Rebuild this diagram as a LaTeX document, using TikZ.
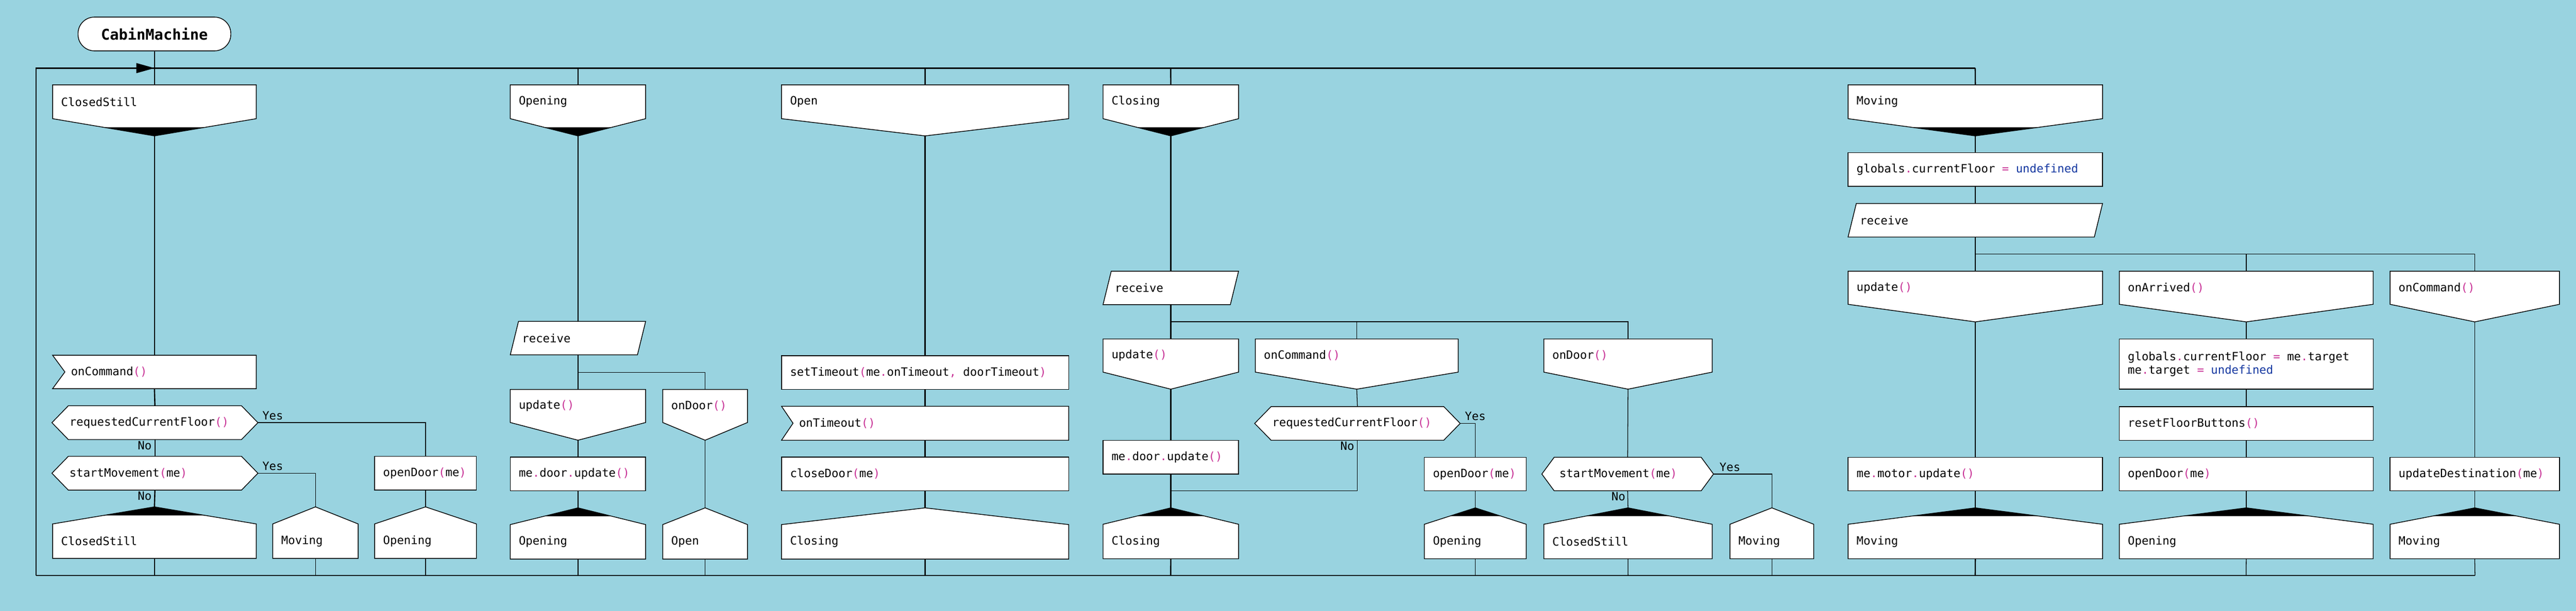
\documentclass[tikz,border=0pt]{standalone}
\usepackage{fontspec}
\setmonofont{DejaVu Sans Mono}
\usetikzlibrary{calc}
\definecolor{bg}{RGB}{153,211,224}
\definecolor{pnk}{RGB}{200,50,150}
\definecolor{ublue}{RGB}{20,55,160}
\newcommand\PK[1]{\textcolor{pnk}{#1}}
\newcommand\UD{\textcolor{ublue}{undefined}}
\tikzset{
  shp/.style={draw=black,fill=white,line width=0.45pt,line join=miter},
  txt/.style={font=\ttfamily\fontsize{7}{8.3}\selectfont,inner sep=0pt,anchor=west,align=left},
  thick line/.style={line width=0.75pt},
  thin line/.style={line width=0.4pt},
  lbl/.style={font=\ttfamily\fontsize{7}{8}\selectfont,inner sep=0.5pt},
}
% header with chevron bottom: name,x1,y1,w,h,d,blk,text
\newcommand\Hdr[8]{%
  \pgfmathsetmacro\Xr{#2+#4}\pgfmathsetmacro\Xm{#2+#4/2}%
  \pgfmathsetmacro\Yb{#3+#5}\pgfmathsetmacro\Ya{#3+#5+#6}\pgfmathsetmacro\Ym{#3+#5/2}%
  \draw[shp] (#2,#3) -- (\Xr,#3) -- (\Xr,\Yb) -- (\Xm,\Ya) -- (#2,\Yb) -- cycle;
  \ifnum#7=1 \fill (\Xm,\Ya) -- ($(\Xm,\Ya)!0.5!(\Xr,\Yb)$) -- ($(\Xm,\Ya)!0.5!(#2,\Yb)$) -- cycle;\fi
  \node[txt] (#1) at (#2+5,\Ym) {#8};
  \coordinate (#1-in) at (\Xm,#3); \coordinate (#1-out) at (\Xm,\Ya);}
% end shape with top apex: name,x1,y0,w,d,h,blk,text
\newcommand\End[8]{%
  \pgfmathsetmacro\Xr{#2+#4}\pgfmathsetmacro\Xm{#2+#4/2}%
  \pgfmathsetmacro\Ys{#3+#5}\pgfmathsetmacro\Yb{#3+#5+#6}\pgfmathsetmacro\Ym{#3+#5+#6/2}%
  \draw[shp] (\Xm,#3) -- (\Xr,\Ys) -- (\Xr,\Yb) -- (#2,\Yb) -- (#2,\Ys) -- cycle;
  \ifnum#7=1 \fill (\Xm,#3) -- ($(\Xm,#3)!0.5!(\Xr,\Ys)$) -- ($(\Xm,#3)!0.5!(#2,\Ys)$) -- cycle;\fi
  \node[txt] (#1) at (#2+5,\Ym) {#8};
  \coordinate (#1-in) at (\Xm,#3); \coordinate (#1-out) at (\Xm,\Yb);}
% plain box: name,x1,y1,w,h,text
\newcommand\Bx[6]{%
  \pgfmathsetmacro\Xr{#2+#4}\pgfmathsetmacro\Xm{#2+#4/2}%
  \pgfmathsetmacro\Yb{#3+#5}\pgfmathsetmacro\Ym{#3+#5/2}%
  \draw[shp] (#2,#3) rectangle (\Xr,\Yb);
  \node[txt] (#1) at (#2+5,\Ym) {#6};
  \coordinate (#1-in) at (\Xm,#3); \coordinate (#1-out) at (\Xm,\Yb);}
% event (notched left): name,x1,y1,w,h,i,text
\newcommand\Ev[7]{%
  \pgfmathsetmacro\Xr{#2+#4}\pgfmathsetmacro\Xm{#2+#4/2}%
  \pgfmathsetmacro\Yb{#3+#5}\pgfmathsetmacro\Ym{#3+#5/2}%
  \draw[shp] (#2,#3) -- (\Xr,#3) -- (\Xr,\Yb) -- (#2,\Yb) -- (#2+#6,\Ym) -- cycle;
  \node[txt] (#1) at (#2+#6+3.5,\Ym) {#7};
  \coordinate (#1-in) at (\Xm,#3); \coordinate (#1-out) at (\Xm,\Yb);}
% hexagon: name,x1,y1,w,h,i,text
\newcommand\Hx[7]{%
  \pgfmathsetmacro\Xr{#2+#4}\pgfmathsetmacro\Xm{#2+#4/2}%
  \pgfmathsetmacro\Yb{#3+#5}\pgfmathsetmacro\Ym{#3+#5/2}%
  \draw[shp] (#2,\Ym) -- (#2+#6,#3) -- (\Xr-#6,#3) -- (\Xr,\Ym) -- (\Xr-#6,\Yb) -- (#2+#6,\Yb) -- cycle;
  \node[txt] (#1) at (#2+10.5,\Ym) {#7};
  \coordinate (#1-in) at (\Xm,#3); \coordinate (#1-out) at (\Xm,\Yb);
  \coordinate (#1-r) at (\Xr,\Ym);}
% parallelogram: name,x1,y1,w,h,s,text
\newcommand\Pa[7]{%
  \pgfmathsetmacro\Xr{#2+#4}\pgfmathsetmacro\Xm{#2+#4/2}%
  \pgfmathsetmacro\Yb{#3+#5}\pgfmathsetmacro\Ym{#3+#5/2}%
  \draw[shp] (#2+#6,#3) -- (\Xr,#3) -- (\Xr-#6,\Yb) -- (#2,\Yb) -- cycle;
  \node[txt] (#1) at (#2+#6+2,\Ym) {#7};
  \coordinate (#1-in) at (\Xm,#3); \coordinate (#1-out) at (\Xm,\Yb);}
\begin{document}
\begin{tikzpicture}[x=1pt,y=-1pt]
\fill[bg] (0,0) rectangle (1568,372.2);
\useasboundingbox (0,0) rectangle (1568,372.2);
% frame
\coordinate (TL) at (22,41.5); \coordinate (BL) at (22,350.6);
\coordinate (TR) at (1202.3,41.5); \coordinate (BR) at (1506.5,350.6);
\draw[thick line] (BL) -- (TL) -- (TR);
\draw[thick line] (BL) -- (BR);
% title
\node[draw,fill=white,rounded corners=10pt,minimum width=93pt,minimum height=20.6pt,inner sep=0pt,
  font=\ttfamily\bfseries\fontsize{9}{10}\selectfont,line width=0.45pt] (title) at (94,20.7) {CabinMachine};
\coordinate (tA) at (94,41.5);
\draw[thick line] (title.south) -- (tA);
\fill (83,38.4) -- (tA) -- (83,44.6) -- cycle;

%% Column A
\Hdr{hA}{32}{51.7}{124}{20.6}{10.5}{1}{ClosedStill}
\Ev{evA}{32}{216.4}{124}{20.4}{7.5}{onCommand\PK{()}}
\Hx{qA1}{31.6}{247.2}{125.4}{20.6}{10}{requestedCurrentFloor\PK{()}}
\Hx{qA2}{31.6}{278}{125.4}{20.6}{10}{startMovement\PK{(}me\PK{)}}
\End{eA1}{32}{308.8}{124}{10.4}{21}{1}{ClosedStill}
\End{eA2}{166}{308.8}{52}{10.4}{21}{0}{Moving}
\Bx{bA}{228}{278}{62}{20.6}{openDoor\PK{(}me\PK{)}}
\End{eA3}{228}{308.8}{62}{10.4}{21}{0}{Opening}
\draw[thick line] (tA) -- (hA-in);
\draw[thick line] (hA-out) -- (evA-in);
\draw[thick line] (evA-out) -- (qA1-in);
\draw[thick line] (qA1-out) -- (qA2-in);
\draw[thick line] (qA2-out) -- (eA1-in);
\draw[thick line] (eA1-out) -- (94,350.6);
\draw[thin line] (qA1-r) -| (bA-in);
\draw[thin line] (bA-out) -- (eA3-in);
\draw[thin line] (eA3-out) -- (259,350.6);
\draw[thin line] (qA2-r) -| (eA2-in);
\draw[thin line] (eA2-out) -- (192,350.6);
\node[lbl,anchor=south west] (yA1) at (159,256.5) {Yes};
\node[lbl,anchor=south west] (yA2) at (159,287.3) {Yes};
\node[lbl,anchor=north east] (nA1) at (93,268) {No};
\node[lbl,anchor=north east] (nA2) at (93,298.8) {No};

%% Column B
\coordinate (tB) at (351.8,41.5);
\Hdr{hB}{310.6}{51.7}{82.4}{20.6}{10.5}{1}{Opening}
\Pa{rB}{310.6}{195.8}{82.4}{20.4}{5}{receive}
\Hdr{uB}{310.6}{237.3}{82.4}{20.1}{10.8}{0}{update\PK{()}}
\Hdr{oB}{403.4}{237.3}{51.6}{20.1}{10.8}{0}{onDoor\PK{()}}
\Bx{bB}{310.6}{278.5}{82.4}{20.5}{me\PK{.}door\PK{.}update\PK{()}}
\End{eB1}{310.6}{309.4}{82.4}{10.2}{21}{1}{Opening}
\End{eB2}{403.4}{309.4}{51.6}{10.2}{21}{0}{Open}
\draw[thick line] (tB) -- (hB-in);
\draw[thick line] (hB-out) -- (rB-in);
\draw[thick line] (rB-out) -- (uB-in);
\draw[thick line] (uB-out) -- (bB-in);
\draw[thick line] (bB-out) -- (eB1-in);
\draw[thick line] (eB1-out) -- (351.8,350.6);
\draw[thin line] (351.8,226.8) -| (oB-in);
\draw[thin line] (oB-out) -- (eB2-in);
\draw[thin line] (eB2-out) -- (429.2,350.6);

%% Column C
\coordinate (tC) at (563.1,41.5);
\Hdr{hC}{475.7}{51.7}{174.8}{20.6}{10.5}{0}{Open}
\Bx{sC}{475.7}{216.7}{174.8}{20.6}{setTimeout\PK{(}me\PK{.}onTimeout\PK{,} doorTimeout\PK{)}}
\Ev{tmC}{475.7}{247.5}{174.8}{20.7}{7}{onTimeout\PK{()}}
\Bx{cC}{475.7}{278.5}{174.8}{20.5}{closeDoor\PK{(}me\PK{)}}
\End{eC}{475.7}{309.4}{174.8}{10.2}{21}{0}{Closing}
\draw[thick line] (tC) -- (hC-in);
\draw[thick line] (hC-out) -- (sC-in);
\draw[thick line] (sC-out) -- (tmC-in);
\draw[thick line] (tmC-out) -- (cC-in);
\draw[thick line] (cC-out) -- (eC-in);
\draw[thick line] (eC-out) -- (563.1,350.6);

%% Column D
\coordinate (tD) at (712.6,41.5);
\Hdr{hD}{671.4}{51.7}{82.5}{20.6}{10.5}{1}{Closing}
\Pa{rD}{671.4}{165.2}{82.5}{20.4}{5}{receive}
\Hdr{uD}{671.4}{206.5}{82.5}{20.2}{10.4}{0}{update\PK{()}}
\Hdr{oD}{764.1}{206.5}{123.5}{20.2}{10.4}{0}{onCommand\PK{()}}
\Hdr{nD}{939.7}{206.5}{102.5}{20.2}{10.4}{0}{onDoor\PK{()}}
\Bx{bD}{671.4}{268.2}{82.5}{20.6}{me\PK{.}door\PK{.}update\PK{()}}
\End{eD1}{671.4}{309.4}{82.5}{10}{21}{1}{Closing}
\Hx{qD}{763.7}{247.7}{125.1}{20.5}{10}{requestedCurrentFloor\PK{()}}
\Bx{bD2}{867}{278.6}{62}{20.4}{openDoor\PK{(}me\PK{)}}
\End{eD2}{867}{309.4}{62}{10}{21}{1}{Opening}
\Hx{qD2}{938.5}{278.6}{104.5}{20.4}{7.5}{startMovement\PK{(}me\PK{)}}
\End{eD3}{939.7}{309.4}{102.5}{10}{21}{1}{ClosedStill}
\End{eD4}{1053}{309.4}{51}{10}{21}{0}{Moving}
\draw[thick line] (tD) -- (hD-in);
\draw[thick line] (hD-out) -- (rD-in);
\draw[thick line] (rD-out) -- (uD-in);
\draw[thick line] (uD-out) -- (bD-in);
\draw[thick line] (bD-out) -- (eD1-in);
\draw[thick line] (eD1-out) -- (712.6,350.6);
\draw[thin line] (712.6,196) -| (oD-in);
\draw[thin line] (712.6,196) -| (nD-in);
\draw[thin line] (oD-out) -- (qD-in);
\draw[thin line] (qD-out) |- (712.6,299);
\draw[thin line] (qD-r) -| (bD2-in);
\draw[thin line] (bD2-out) -- (eD2-in);
\draw[thin line] (eD2-out) -- (898,350.6);
\draw[thin line] (nD-out) -- (qD2-in);
\draw[thin line] (qD2-out) -- (eD3-in);
\draw[thin line] (eD3-out) -- (991,350.6);
\draw[thin line] (qD2-r) -| (eD4-in);
\draw[thin line] (eD4-out) -- (1078.5,350.6);
\node[lbl,anchor=south west] (yD1) at (891,257) {Yes};
\node[lbl,anchor=north east] (nD1) at (825,268.5) {No};
\node[lbl,anchor=south west] (yD2) at (1046,287.8) {Yes};
\node[lbl,anchor=north east] (nD2) at (990,299.3) {No};

%% Column E
\Hdr{hE}{1124.9}{51.7}{154.9}{20.6}{10.5}{1}{Moving}
\Bx{gE}{1124.9}{92.9}{154.9}{20.6}{globals\PK{.}currentFloor \PK{=} \UD}
\Pa{rE}{1124.9}{124}{154.9}{20.4}{5}{receive}
\Hdr{uE}{1124.9}{165.2}{154.9}{20.2}{10.7}{0}{update\PK{()}}
\Hdr{aE}{1290}{165.2}{154.5}{20.2}{10.7}{0}{onArrived\PK{()}}
\Hdr{cE}{1454.8}{165.2}{103.1}{20.2}{10.7}{0}{onCommand\PK{()}}
\Bx{g2E}{1290}{206.5}{154.5}{30.6}{globals\PK{.}currentFloor \PK{=} me\PK{.}target\\me\PK{.}target \PK{=} \UD}
\Bx{rfE}{1290}{247.7}{154.5}{20.5}{resetFloorButtons\PK{()}}
\Bx{mE}{1124.9}{278.6}{154.9}{20.4}{me\PK{.}motor\PK{.}update\PK{()}}
\Bx{odE}{1290}{278.6}{154.5}{20.4}{openDoor\PK{(}me\PK{)}}
\Bx{udE}{1454.8}{278.6}{103.1}{20.4}{updateDestination\PK{(}me\PK{)}}
\End{eE1}{1124.9}{309.4}{154.9}{10}{21}{1}{Moving}
\End{eE2}{1290}{309.4}{154.5}{10}{21}{1}{Opening}
\End{eE3}{1454.8}{309.4}{103.1}{10}{21}{1}{Moving}
\draw[thick line] (TR) -- (hE-in);
\draw[thick line] (hE-out) -- (gE-in);
\draw[thick line] (gE-out) -- (rE-in);
\draw[thick line] (rE-out) -- (uE-in);
\draw[thick line] (uE-out) -- (mE-in);
\draw[thick line] (mE-out) -- (eE1-in);
\draw[thick line] (eE1-out) -- (1202.3,350.6);
\draw[thin line] (1202.3,154.8) -| (aE-in);
\draw[thin line] (1202.3,154.8) -| (cE-in);
\draw[thin line] (aE-out) -- (g2E-in);
\draw[thin line] (g2E-out) -- (rfE-in);
\draw[thin line] (rfE-out) -- (odE-in);
\draw[thin line] (odE-out) -- (eE2-in);
\draw[thin line] (eE2-out) -- (1367.2,350.6);
\draw[thin line] (cE-out) -- (udE-in);
\draw[thin line] (udE-out) -- (eE3-in);
\draw[thin line] (eE3-out) -- (BR);
\end{tikzpicture}
\end{document}
